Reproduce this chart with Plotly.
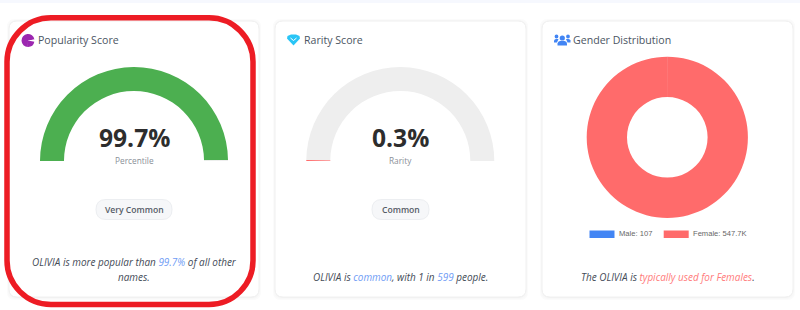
import plotly.graph_objects as go

W, H = 800, 310
FONT = "Open Sans"

# ---- data ----
popularity = [99.7, 0.3]
rarity = [0.3, 99.7]
gender_labels = ["Male", "Female"]
gender_values = [107, 547700]
titles = ["Popularity Score", "Rarity Score", "Gender Distribution"]
center_values = ["99.7%", "0.3%"]
center_labels = ["Percentile", "Rarity"]
badges = ["Very Common", "Common"]
legend_labels = ["Male: 107", "Female: 547.7K"]

GREEN, GREY, RED, BLUE = "#4caf50", "#eeeeee", "#ff6b6b", "#4285f4"


def dom(x0, y0, x1, y1):
    return dict(x=[x0 / W, x1 / W], y=[1 - y1 / H, 1 - y0 / H])


def rrect(x0, y0, x1, y1, r):
    return (f"M{x0+r},{y0} L{x1-r},{y0} Q{x1},{y0} {x1},{y0+r} L{x1},{y1-r} Q{x1},{y1} {x1-r},{y1} "
            f"L{x0+r},{y1} Q{x0},{y1} {x0},{y1-r} L{x0},{y0+r} Q{x0},{y0} {x0+r},{y0} Z")


def arc_round(x0, y0, x1, y1, r):
    k = 0.45 * r
    return (f"M{x0+r},{y0} L{x1-r},{y0} C{x1-k},{y0} {x1},{y0+k} {x1},{y0+r} L{x1},{y1-r} "
            f"C{x1},{y1-k} {x1-k},{y1} {x1-r},{y1} L{x0+r},{y1} C{x0+k},{y1} {x0},{y1-k} {x0},{y1-r} "
            f"L{x0},{y0+r} C{x0},{y0+k} {x0+k},{y0} {x0+r},{y0} Z")


fig = go.Figure()


def gauge(values, colors, cx, cy=161, r=94):
    fig.add_trace(go.Pie(
        values=values + [sum(values)],
        marker=dict(colors=colors + ["rgba(0,0,0,0)"], line=dict(width=0)),
        hole=0.745, rotation=270, direction="clockwise", sort=False,
        textinfo="none", hoverinfo="skip", showlegend=False,
        domain=dom(cx - r, cy - r, cx + r, cy + r),
    ))


gauge(popularity, [GREEN, GREY], 134)
gauge(rarity, [RED, GREY], 400.3)

gcx, gcy, gr = 667.3, 137.3, 80.6
fig.add_trace(go.Pie(
    labels=gender_labels, values=gender_values,
    marker=dict(colors=[BLUE, RED], line=dict(width=0)),
    hole=0.5, rotation=0, direction="clockwise", sort=False,
    textinfo="none", hoverinfo="label+value", showlegend=False,
    domain=dom(gcx - gr, gcy - gr, gcx + gr, gcy + gr),
))

# icon: small pie for the popularity mark
fig.add_trace(go.Pie(
    values=[72, 6, 22],
    marker=dict(colors=["#9c27b0", "#ffffff", "#9c27b0"], line=dict(width=0)),
    rotation=181, direction="clockwise", sort=False, hole=0.0,
    textinfo="none", hoverinfo="skip", showlegend=False,
    domain=dom(21.5, 34, 34.5, 47),
))

shapes = []
shapes.append(dict(type="rect", x0=0, x1=800, y0=0, y1=3, fillcolor="#f6f8fe", line_width=0, layer="below"))

for x0, x1 in [(9, 259), (275, 526), (542, 793)]:
    for off, col in [(3, "#fbfbfb"), (2, "#f8f8f8"), (1, "#f3f3f3")]:
        shapes.append(dict(type="path", path=rrect(x0 - off + 1, 21 - off + 1, x1 + off - 1, 297 + off, 8),
                           fillcolor=col, line_width=0, layer="below"))
    shapes.append(dict(type="path", path=rrect(x0, 21, x1, 297, 8), fillcolor="white",
                       line=dict(color="#f0f0f0", width=1), layer="below"))

# badges
for x0, x1 in [(96, 172), (372, 429)]:
    shapes.append(dict(type="path", path=rrect(x0, 199.5, x1, 219.5, 10), fillcolor="#f6f7f9",
                       line=dict(color="#eceef1", width=1), layer="below"))

# legend swatches
for x0, col in [(589.5, BLUE), (663.7, RED)]:
    shapes.append(dict(type="rect", x0=x0, x1=x0 + 25, y0=230.5, y1=238, fillcolor=col, line_width=0, layer="below"))

# diamond icon
shapes.append(dict(type="path",
                   path="M287.5,36 L291,34.5 L296,34.5 L299.5,36 L300,38.5 L293.5,45.5 L287,38.5 Z",
                   fillcolor="#29c5f6", line_width=0, layer="above"))
shapes.append(dict(type="path", path="M290.5,38 L293.5,40.5 L296.5,38", line=dict(color="#ffffff", width=1), layer="above"))

# users icon
for cx, cy, rr, col in [(562.3, 38, 2.6, BLUE), (556.5, 36.5, 1.9, BLUE), (568, 36.5, 1.9, BLUE)]:
    shapes.append(dict(type="circle", x0=cx - rr, x1=cx + rr, y0=cy - rr, y1=cy + rr, fillcolor=col, line_width=0, layer="above"))
shapes.append(dict(type="path", path="M557.5,45.5 L557.5,43.5 Q558,41 560,41 L564.5,41 Q566.8,41 567,43.5 L567,45.5 Z",
                   fillcolor=BLUE, line_width=0, layer="above"))
shapes.append(dict(type="path", path="M554,42.5 L554,40.5 Q554.5,39 556,39 L558.5,39 L557,42.5 Z", fillcolor=BLUE, line_width=0, layer="above"))
shapes.append(dict(type="path", path="M570.5,42.5 L570.5,40.5 Q570,39 568.5,39 L566,39 L567.5,42.5 Z", fillcolor=BLUE, line_width=0, layer="above"))

# hand-drawn highlight ring
shapes.append(dict(type="path", path=arc_round(7, 17.8, 253, 304.5, 44), line=dict(color="#ed1c24", width=5.5), layer="above"))


def txt(x, y, s, size, color, anchor="center", family=FONT, weight=None):
    f = dict(family=family, size=size, color=color)
    if weight:
        f["weight"] = weight
    return dict(x=x, y=y, text=s, showarrow=False, xanchor=anchor, yanchor="middle", xref="x", yref="y", font=f)


ITALIC = 9.95
ann = [
    txt(36, 40.3, titles[0], 10.6, "#4b5563", "left", weight=500),
    txt(301.8, 40.3, titles[1], 10.6, "#4b5563", "left", weight=500),
    txt(571, 40.3, titles[2], 10.6, "#4b5563", "left", weight=500),
    txt(134, 137, f"<b>{center_values[0]}</b>", 24.6, "#2d2d2d"),
    txt(400, 137, f"<b>{center_values[1]}</b>", 24.6, "#2d2d2d"),
    txt(134, 160, center_labels[0], 8.3, "#8a8f98"),
    txt(400.3, 160, center_labels[1], 8.3, "#8a8f98"),
    txt(134, 209.5, badges[0], 8.6, "#555b66", weight=600),
    txt(400.5, 209.5, badges[1], 8.6, "#555b66", weight=600),
    txt(616.5, 233.8, legend_labels[0], 7.6, "#666666", "left", family="Liberation Sans"),
    txt(690.5, 233.8, legend_labels[1], 7.6, "#666666", "left", family="Liberation Sans"),
    txt(134, 262, "<i>OLIVIA is more popular than <span style='color:#6f9cf5'>99.7%</span> of all other</i>", ITALIC, "#444b57"),
    txt(134, 277, "<i>names.</i>", ITALIC, "#444b57"),
    txt(400.5, 277, "<i>OLIVIA is <span style='color:#6f9cf5'>common</span>, with 1 in <span style='color:#6f9cf5'>599</span> people.</i>", ITALIC, "#444b57"),
    txt(667.5, 277, "<i>The OLIVIA is <span style='color:#ff7b7b'>typically used for Females</span>.</i>", ITALIC, "#444b57"),
]

fig.update_layout(
    width=W, height=H, margin=dict(l=0, r=0, t=0, b=0),
    paper_bgcolor="white", plot_bgcolor="rgba(0,0,0,0)",
    xaxis=dict(range=[0, W], visible=False, fixedrange=True),
    yaxis=dict(range=[H, 0], visible=False, fixedrange=True),
    shapes=shapes, annotations=ann, showlegend=False,
    font=dict(family=FONT),
)
fig.add_trace(go.Scatter(x=[], y=[], showlegend=False, hoverinfo="skip"))

fig.write_html("out.html", config={"displayModeBar": False},
               post_script="document.body.style.margin='0';document.documentElement.style.overflow='hidden';")
